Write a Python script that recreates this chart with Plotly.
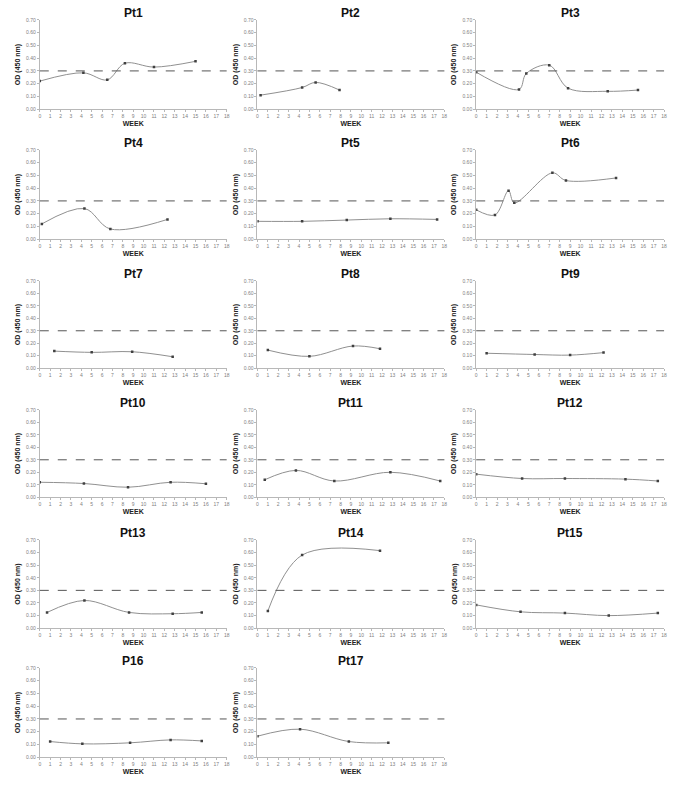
import plotly.graph_objects as go

# ---------------- data ----------------
titles = ["Pt1", "Pt2", "Pt3", "Pt4", "Pt5", "Pt6", "Pt7", "Pt8", "Pt9",
          "Pt10", "Pt11", "Pt12", "Pt13", "Pt14", "Pt15", "P16", "Pt17"]

pt1_x = [0, 4.2, 6.5, 8.2, 11.0, 15.0]
pt1_y = [0.22, 0.285, 0.23, 0.36, 0.33, 0.375]
pt2_x = [0.3, 4.3, 5.6, 7.9]
pt2_y = [0.11, 0.17, 0.21, 0.15]
pt3_x = [0, 4.1, 4.8, 7.0, 8.8, 12.6, 15.5]
pt3_y = [0.29, 0.155, 0.28, 0.345, 0.165, 0.14, 0.15]
pt4_x = [0.2, 4.3, 6.8, 12.3]
pt4_y = [0.12, 0.24, 0.08, 0.155]
pt5_x = [0, 4.3, 8.6, 12.8, 17.3]
pt5_y = [0.14, 0.14, 0.15, 0.16, 0.155]
pt6_x = [0, 1.8, 3.1, 3.65, 7.3, 8.6, 13.4]
pt6_y = [0.23, 0.19, 0.38, 0.285, 0.52, 0.46, 0.48]
pt7_x = [1.4, 5.0, 8.9, 12.8]
pt7_y = [0.137, 0.127, 0.132, 0.092]
pt8_x = [1.0, 5.0, 9.2, 11.8]
pt8_y = [0.145, 0.095, 0.178, 0.156]
pt9_x = [1.0, 5.6, 9.0, 12.2]
pt9_y = [0.12, 0.11, 0.105, 0.125]
pt10_x = [0, 4.25, 8.5, 12.6, 16.0]
pt10_y = [0.12, 0.11, 0.08, 0.12, 0.108]
pt11_x = [0.7, 3.7, 7.4, 12.8, 17.6]
pt11_y = [0.14, 0.215, 0.13, 0.20, 0.13]
pt12_x = [0, 4.4, 8.5, 14.3, 17.4]
pt12_y = [0.185, 0.15, 0.15, 0.145, 0.13]
pt13_x = [0.7, 4.3, 8.6, 12.8, 15.6]
pt13_y = [0.125, 0.22, 0.125, 0.115, 0.125]
pt14_x = [1.0, 4.3, 11.8]
pt14_y = [0.137, 0.58, 0.615]
pt15_x = [0, 4.25, 8.5, 12.7, 17.4]
pt15_y = [0.185, 0.13, 0.12, 0.10, 0.12]
pt16_x = [1.0, 4.1, 8.7, 12.6, 15.6]
pt16_y = [0.123, 0.105, 0.113, 0.136, 0.128]
pt17_x = [0, 4.1, 8.8, 12.6]
pt17_y = [0.165, 0.22, 0.123, 0.113]

series_x = [pt1_x, pt2_x, pt3_x, pt4_x, pt5_x, pt6_x, pt7_x, pt8_x, pt9_x,
            pt10_x, pt11_x, pt12_x, pt13_x, pt14_x, pt15_x, pt16_x, pt17_x]
series_y = [pt1_y, pt2_y, pt3_y, pt4_y, pt5_y, pt6_y, pt7_y, pt8_y, pt9_y,
            pt10_y, pt11_y, pt12_y, pt13_y, pt14_y, pt15_y, pt16_y, pt17_y]

CUTOFF = 0.30
week_ticks = list(range(0, 19))
od_ticks = [0.0, 0.1, 0.2, 0.3, 0.4, 0.5, 0.6, 0.7]

# ---------------- layout geometry (page pixels) ----------------
W, H = 680, 792
col_px = [(39, 227), (258, 446), (478, 667)]
row_px = [(17, 107), (148, 238), (280, 368), (410, 498), (541, 630), (670, 760)]

FONT = "Liberation Sans, Arial, sans-serif"
fig = go.Figure()
layout = dict(
    width=W, height=H, margin=dict(l=0, r=0, t=0, b=0),
    paper_bgcolor="white", plot_bgcolor="white", showlegend=False,
    font=dict(family=FONT),
)
annotations = []
shapes = []

for i, (xs, ys) in enumerate(zip(series_x, series_y)):
    r, c = divmod(i, 3)
    n = "" if i == 0 else str(i + 1)
    x0, x1 = col_px[c]
    yt, yb = row_px[r]
    xd = [x0 / W, x1 / W]
    yd = [1 - yb / H, 1 - yt / H]
    fig.add_trace(go.Scatter(
        x=xs, y=ys, mode="lines+markers",
        line=dict(color="#909090", width=1, shape="spline", smoothing=1.0),
        marker=dict(color="#404040", size=2.5, symbol="square"),
        xaxis="x" + n, yaxis="y" + n, hoverinfo="x+y",
    ))
    layout["xaxis" + n] = dict(
        domain=xd, anchor="y" + n, range=[0, 18], tickvals=week_ticks,
        showgrid=False, zeroline=False, showline=True, linecolor="#b8b8b8",
        linewidth=1, ticks="outside", ticklen=2, tickcolor="#b8b8b8",
        tickfont=dict(size=5, color="#808080", family=FONT),
        title=dict(text="<b>WEEK</b>", font=dict(size=7, color="#222222", family=FONT),
                   standoff=2),
    )
    layout["yaxis" + n] = dict(
        domain=yd, anchor="x" + n, range=[0, 0.7], tickvals=od_ticks,
        tickformat=".2f", showgrid=False, zeroline=False, showline=True,
        linecolor="#b8b8b8", linewidth=1, ticks="outside", ticklen=2,
        tickcolor="#b8b8b8", tickfont=dict(size=5, color="#808080", family=FONT),
        title=dict(text="<b>OD (450 nm)</b>", font=dict(size=7, color="#222222", family=FONT),
                   standoff=4),
    )
    shapes.append(dict(
        type="line", xref=("x" + n) + " domain", yref="y" + n,
        x0=0, x1=1.0, y0=CUTOFF, y1=CUTOFF,
        line=dict(color="#555555", width=1, dash="dash"),
    ))
    annotations.append(dict(
        text="<b>" + titles[i] + "</b>", xref="paper", yref="paper",
        x=(xd[0] + xd[1]) / 2, y=yd[1], xanchor="center", yanchor="bottom",
        yshift=-2, showarrow=False, font=dict(size=12, color="#111111", family=FONT),
    ))

layout["annotations"] = annotations
layout["shapes"] = shapes
fig.update_layout(**layout)
fig.write_html(
    "out.html",
    config={"displayModeBar": False},
    post_script="document.body.style.margin='0px';document.body.style.overflow='hidden';",
)
